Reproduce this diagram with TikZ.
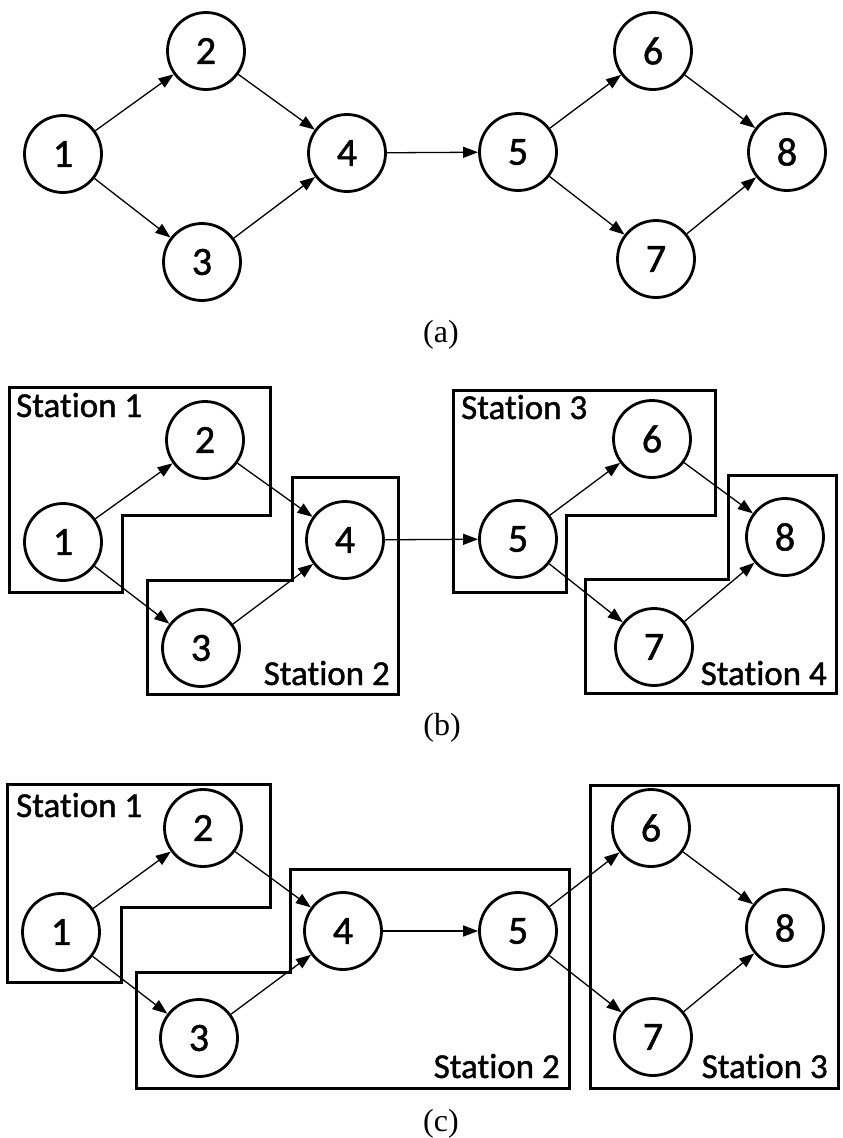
\documentclass[tikz,border=0pt]{standalone}
\usepackage{fontspec}
\setmainfont{Liberation Serif}
\newfontfamily\calfont[Ligatures={NoCommon},FakeBold=1.2]{Carlito}
\usetikzlibrary{arrows.meta}
\tikzset{
  task/.style={circle,draw,line width=2.8pt,minimum size=77pt,inner sep=0pt,
    font=\calfont\fontsize{40}{42}\selectfont},
  arr/.style={line width=1.3pt,-{Triangle[length=15pt,width=11pt]}},
  stationbox/.style={draw,line width=3pt,line join=miter},
  stlabel/.style={inner sep=0pt,font=\calfont\fontsize{35}{37}\selectfont},
  caption/.style={inner sep=0pt,anchor=base,font=\fontsize{32}{34}\selectfont}
}
\begin{document}
\begin{tikzpicture}[x=1pt,y=-1pt]
\useasboundingbox[fill=white] (0,0) rectangle (843,1138);

% ---------- panel (a) ----------
\node[task] (a1) at (63,154) {1};
\node[task] (a2) at (206,51) {2};
\node[task] (a3) at (202,262) {3};
\node[task] (a4) at (347,153) {4};
\node[task] (a5) at (518,152) {5};
\node[task] (a6) at (653,51) {6};
\node[task] (a7) at (656,259) {7};
\node[task] (a8) at (787,152) {8};
\draw[arr] (a1) -- (a2);
\draw[arr] (a1) -- (a3);
\draw[arr] (a2) -- (a4);
\draw[arr] (a3) -- (a4);
\draw[arr] (a4) -- (a5);
\draw[arr] (a5) -- (a6);
\draw[arr] (a5) -- (a7);
\draw[arr] (a6) -- (a8);
\draw[arr] (a7) -- (a8);
\node[caption] (capa) at (441,342) {(a)};

% ---------- panel (b) ----------
\draw[stationbox] (9,387) -- (270,387) -- (270,515) -- (122,515) -- (122,592) -- (9,592) -- cycle;
\draw[stationbox] (292,477) -- (398,477) -- (398,694) -- (147,694) -- (147,580) -- (292,580) -- cycle;
\draw[stationbox] (453,390) -- (715,390) -- (715,515) -- (566,515) -- (566,592) -- (453,592) -- cycle;
\draw[stationbox] (728,475) -- (836,475) -- (836,693) -- (585,693) -- (585,579) -- (728,579) -- cycle;
\node[stlabel,anchor=base west] (bs1) at (16,417) {Station 1};
\node[stlabel,anchor=base east] (bs2) at (390,685) {Station 2};
\node[stlabel,anchor=base west] (bs3) at (461,419) {Station 3};
\node[stlabel,anchor=base east] (bs4) at (827,685) {Station 4};
\node[task] (b1) at (63,542) {1};
\node[task] (b2) at (205,440) {2};
\node[task] (b3) at (201,648) {3};
\node[task] (b4) at (345,540) {4};
\node[task] (b5) at (518,539) {5};
\node[task] (b6) at (652,439) {6};
\node[task] (b7) at (654,647) {7};
\node[task] (b8) at (785,537) {8};
\draw[arr] (b1) -- (b2);
\draw[arr] (b1) -- (b3);
\draw[arr] (b2) -- (b4);
\draw[arr] (b3) -- (b4);
\draw[arr] (b4) -- (b5);
\draw[arr] (b5) -- (b6);
\draw[arr] (b5) -- (b7);
\draw[arr] (b6) -- (b8);
\draw[arr] (b7) -- (b8);
\node[caption] (capb) at (442,735) {(b)};

% ---------- panel (c) ----------
\draw[stationbox] (7,784) -- (270,784) -- (270,907) -- (121,907) -- (121,982) -- (7,982) -- cycle;
\draw[stationbox] (290,869) -- (569,869) -- (569,1088) -- (136,1088) -- (136,972) -- (290,972) -- cycle;
\draw[stationbox] (590,785) rectangle (838,1088);
\node[stlabel,anchor=base west] (cs1) at (16,817) {Station 1};
\node[stlabel,anchor=base east] (cs2) at (560,1078) {Station 2};
\node[stlabel,anchor=base east] (cs3) at (828,1078) {Station 3};
\node[task] (c1) at (61,932) {1};
\node[task] (c2) at (203,828) {2};
\node[task] (c3) at (199,1038) {3};
\node[task] (c4) at (343,931) {4};
\node[task] (c5) at (518,931) {5};
\node[task] (c6) at (651,828) {6};
\node[task] (c7) at (653,1037) {7};
\node[task] (c8) at (785,928) {8};
\draw[arr] (c1) -- (c2);
\draw[arr] (c1) -- (c3);
\draw[arr] (c2) -- (c4);
\draw[arr] (c3) -- (c4);
\draw[arr] (c4) -- (c5);
\draw[arr] (c5) -- (c6);
\draw[arr] (c5) -- (c7);
\draw[arr] (c6) -- (c8);
\draw[arr] (c7) -- (c8);
\node[caption] (capc) at (441,1131) {(c)};
\end{tikzpicture}
\end{document}
